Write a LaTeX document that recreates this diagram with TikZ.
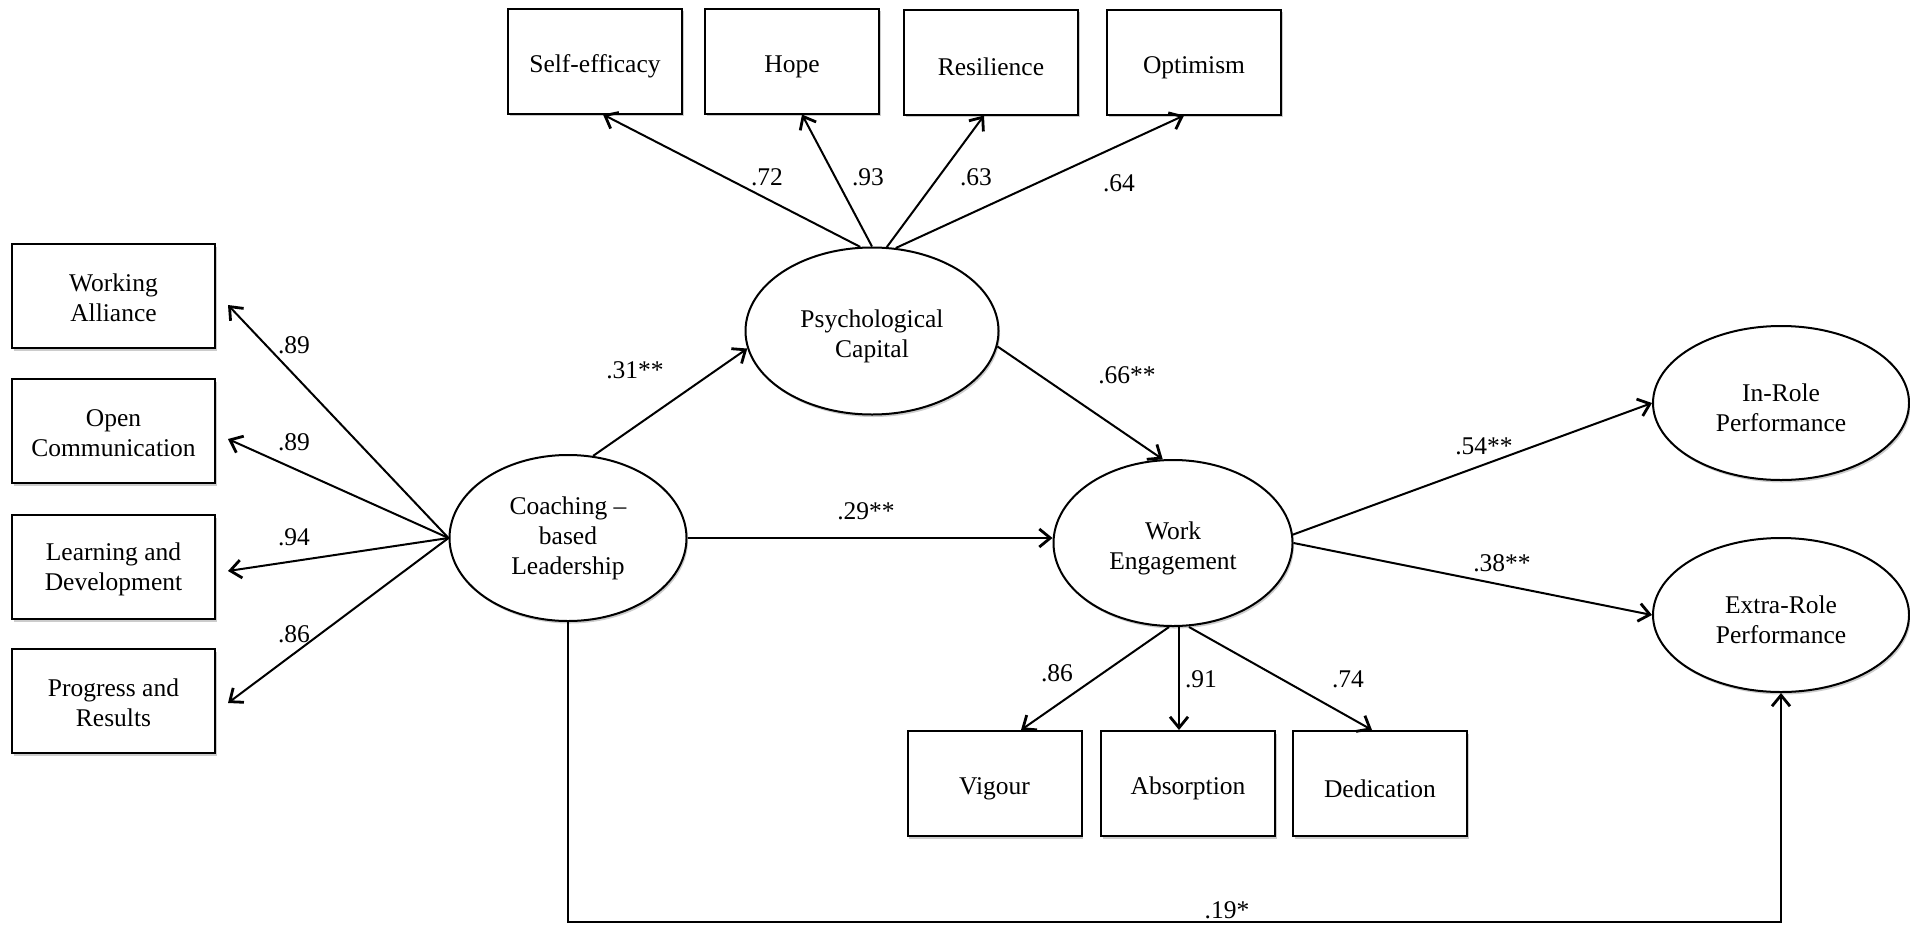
\documentclass[tikz,border=0pt]{standalone}
\usepackage{fontspec}
\setmainfont{Liberation Serif}
\usetikzlibrary{arrows.meta,shapes.geometric,calc,shadows}
\newcommand{\lowtxt}{\rule{0pt}{28pt}}
\newcommand{\lowtxtb}{\rule{0pt}{22pt}}
\begin{document}
\begin{tikzpicture}[x=1pt,y=-1pt,
  every node/.style={font=\fontsize{25.5}{30}\selectfont, text=black},
  shad/.style={drop shadow={shadow xshift=1.5pt, shadow yshift=-2.5pt, fill=black!40}},
  obs/.style={draw, line width=2pt, fill=white, minimum width=174pt, minimum height=105pt, align=center, inner sep=0pt, shad},
  obsl/.style={draw, line width=2pt, fill=white, minimum width=203pt, minimum height=104pt, align=center, inner sep=0pt, shad},
  lat/.style={ellipse, draw, line width=2pt, fill=white, align=center, inner sep=0pt, shad},
  arr/.style={line width=2pt, -{Straight Barb[length=11pt,width=18pt,line width=2.8pt]}},
  lbl/.style={inner sep=1pt}
]
\useasboundingbox (0,0) rectangle (1910,926);

% indicator boxes, top
\node[obs] (se)   at (595,61)  {\lowtxt Self-efficacy};
\node[obs] (hope) at (792,61)  {\lowtxt Hope};
\node[obs] (res)  at (991,62)  {\lowtxt Resilience};
\node[obs] (opt)  at (1194,62) {\lowtxt Optimism};

% indicator boxes, left
\node[obsl] (wa) at (113.5,296) {\lowtxtb Working\\Alliance};
\node[obsl] (oc) at (113.5,431) {\lowtxtb Open\\Communication};
\node[obsl] (ld) at (113.5,567) {\lowtxtb Learning and\\Development};
\node[obsl] (pr) at (113.5,701) {\lowtxtb Progress and\\Results};

% indicator boxes, bottom
\node[obs] (vig) at (994.5,783.5) {\lowtxt Vigour};
\node[obs] (abs) at (1188,783.5)  {\lowtxt Absorption};
\node[obs] (ded) at (1380,783.5)  {\lowtxt Dedication};

% latent variables
\node[lat, minimum width=253pt, minimum height=167pt] (psy)   at (872,331)  {\lowtxt Psychological\\Capital};
\node[lat, minimum width=237pt, minimum height=166pt] (coach) at (568,538)  {Coaching –\\based\\Leadership};
\node[lat, minimum width=239pt, minimum height=166pt] (we)    at (1173,543) {\lowtxt Work\\Engagement};
\node[lat, minimum width=256pt, minimum height=154pt] (inr)   at (1781,403) {\lowtxt In-Role\\Performance};
\node[lat, minimum width=256pt, minimum height=154pt] (ext)   at (1781,615) {\lowtxt Extra-Role\\Performance};

\coordinate (bot) at (0,922);

% psychological capital loadings
\draw[arr] (psy.98) -- ($(se.south)+(8,0)$);
\draw[arr] (psy.90) -- ($(hope.south)+(10,0)$);
\draw[arr] (psy.80) -- ($(res.south)+(-7,0)$);
\draw[arr] (psy.74) -- ($(opt.south)+(-10,0)$);

% coaching loadings
\draw[arr] (coach.west) -- ($(wa.east)+(12,9)$);
\draw[arr] (coach.west) -- ($(oc.east)+(12,8)$);
\draw[arr] (coach.west) -- ($(ld.east)+(12,4)$);
\draw[arr] (coach.west) -- ($(pr.east)+(12,2)$);

% work engagement loadings
\draw[arr] ($(we.south)+(-4,0)$) -- ($(vig.north)+(26.5,0)$);
\draw[arr] ($(we.south)+(6,0)$)  -- ($(abs.north)+(-9,0)$);
\draw[arr] ($(we.south)+(16,0)$) -- ($(ded.north)+(-8,0)$);

% structural paths
\draw[arr] (coach.73) -- (psy.188);
\draw[arr] (psy.353) -- (we.97);
\draw[arr] (coach.east) -- (coach.east -| we.west);
\draw[arr] (we.4) -- (inr.west);
\draw[arr] (we.east) -- (ext.west);
\draw[arr] (coach.south) -- (coach.south |- bot) -| (ext.south);

% labels
\node[lbl] (l1)  at (767,177)  {.72};
\node[lbl] (l2)  at (868,177)  {.93};
\node[lbl] (l3)  at (976,177)  {.63};
\node[lbl] (l4)  at (1119,183) {.64};
\node[lbl] (l5)  at (294,345)  {.89};
\node[lbl] (l6)  at (294,442)  {.89};
\node[lbl] (l7)  at (294,537)  {.94};
\node[lbl] (l8)  at (294,634)  {.86};
\node[lbl] (l9)  at (635,370)  {.31**};
\node[lbl] (l10) at (1127,375) {.66**};
\node[lbl] (l11) at (866,511)  {.29**};
\node[lbl] (l12) at (1484,446) {.54**};
\node[lbl] (l13) at (1502,563) {.38**};
\node[lbl] (l14) at (1057,673) {.86};
\node[lbl] (l15) at (1201,679) {.91};
\node[lbl] (l16) at (1348,679) {.74};
\node[lbl] (l17) at (1227,910) {.19*};
\end{tikzpicture}
\end{document}
